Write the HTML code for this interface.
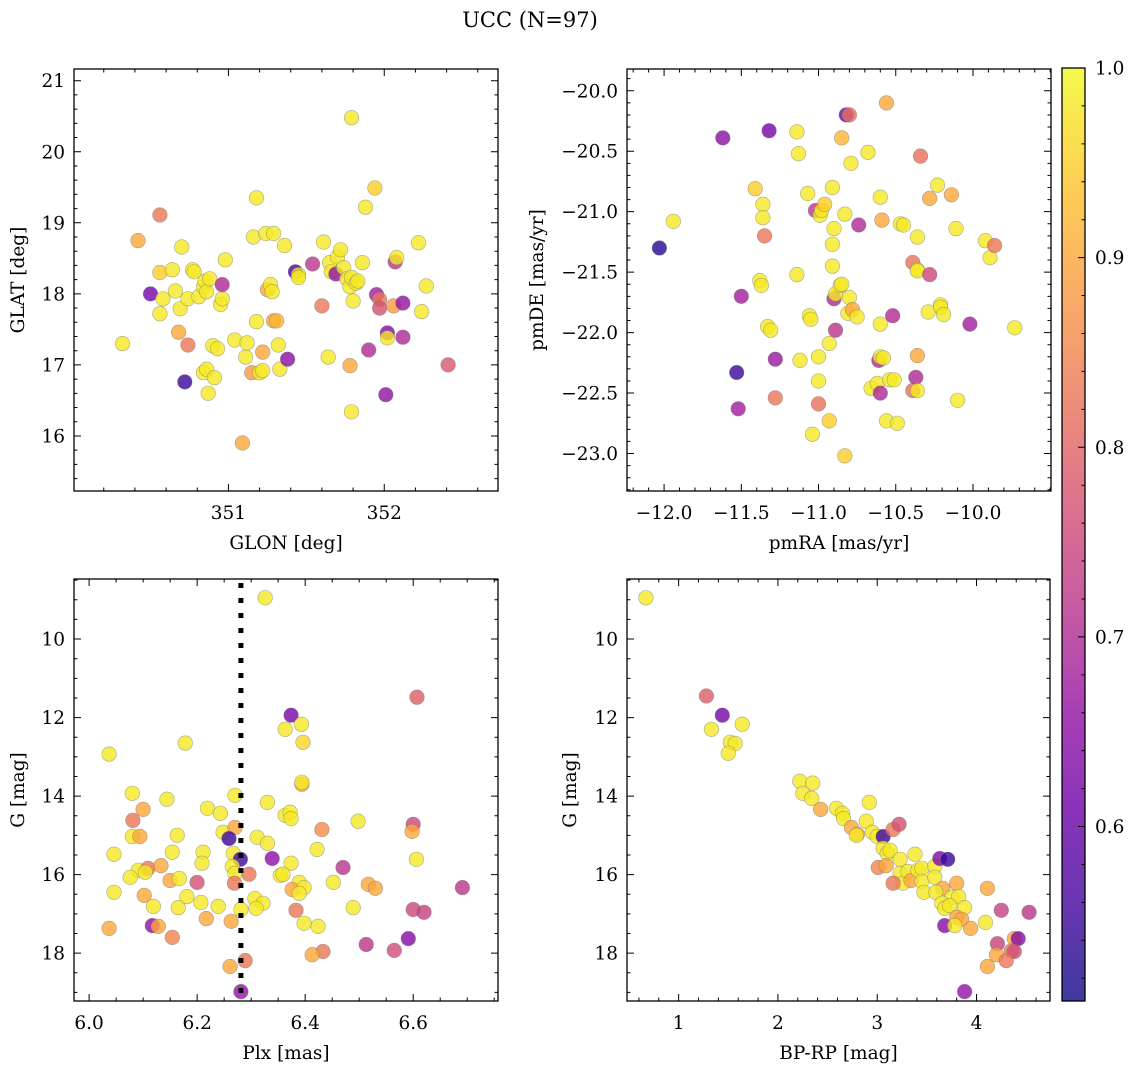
<!DOCTYPE html>
<html><head><meta charset="utf-8"><title>UCC (N=97)</title>
<style>
html,body{margin:0;padding:0;background:#fff;}
svg{display:block;font-family:"DejaVu Serif","Liberation Serif",serif;}
</style></head>
<body>
<svg id="fig" width="1136" height="1068" viewBox="0 0 1136 1068" xmlns="http://www.w3.org/2000/svg">
<text x="530" y="27" font-size="21" text-anchor="middle">UCC (N=97)</text>
</svg>
<script>
// ---------- data ----------
const p1Glon=[350.32,350.42,350.50,350.56,350.56,350.56,350.58,350.64,350.66,350.68,350.69,350.70,350.72,350.74,350.74,350.77,350.78,350.81,350.84,350.84,350.85,350.86,350.86,350.87,350.88,350.90,350.91,350.93,350.95,350.96,350.96,350.98,351.04,351.09,351.11,351.12,351.15,351.16,351.18,351.18,351.20,351.22,351.22,351.24,351.25,351.27,351.28,351.29,351.29,351.31,351.32,351.33,351.36,351.38,351.43,351.45,351.45,351.54,351.60,351.61,351.64,351.65,351.66,351.69,351.70,351.72,351.74,351.76,351.78,351.78,351.79,351.79,351.79,351.80,351.82,351.83,351.86,351.88,351.90,351.94,351.95,351.97,351.97,352.01,352.02,352.02,352.06,352.07,352.08,352.12,352.12,352.22,352.24,352.27,352.41];
const p1Glat=[17.30,18.75,18.00,19.11,18.30,17.72,17.93,18.34,18.04,17.46,17.79,18.66,16.76,17.28,17.93,18.34,18.31,17.96,18.10,16.89,18.18,18.03,16.94,16.60,18.21,17.27,16.82,17.23,17.85,17.93,18.13,18.48,17.35,15.90,17.11,17.31,16.89,18.80,19.35,17.61,16.89,17.18,16.92,18.85,18.06,18.13,18.03,17.62,18.85,17.62,17.28,16.94,18.68,17.08,18.31,18.27,18.23,18.42,17.83,18.73,17.11,18.44,18.31,18.28,18.52,18.62,18.37,18.21,18.10,16.99,18.23,20.48,16.34,17.90,18.15,18.18,18.44,19.22,17.21,19.49,17.99,17.92,17.80,16.58,17.45,17.38,17.83,18.45,18.51,17.87,17.39,18.72,17.75,18.11,17.00];
const p1Prob=[0.98,0.90,0.62,0.83,0.95,0.98,0.98,0.98,0.98,0.90,0.98,0.98,0.55,0.83,0.98,0.98,0.98,0.98,0.98,0.98,0.98,0.98,0.98,0.98,0.98,0.98,0.98,0.98,0.98,0.98,0.70,0.98,0.98,0.90,0.98,0.98,0.88,0.98,0.98,0.98,0.98,0.90,0.98,0.98,0.90,0.98,0.98,0.90,0.98,0.92,0.98,0.98,0.98,0.65,0.56,0.98,0.98,0.72,0.83,0.98,0.98,0.98,0.98,0.66,0.98,0.98,0.98,0.98,0.98,0.90,0.98,0.98,0.98,0.98,0.98,0.98,0.98,0.98,0.70,0.95,0.68,0.83,0.77,0.66,0.64,0.98,0.88,0.72,0.98,0.66,0.70,0.98,0.98,0.98,0.78];

const p2Pmra=[-12.03,-11.94,-11.62,-11.53,-11.52,-11.50,-11.41,-11.36,-11.36,-11.35,-11.38,-11.37,-11.33,-11.31,-11.32,-11.28,-11.28,-11.14,-11.13,-11.14,-11.12,-11.07,-11.06,-11.05,-11.04,-11.02,-11.00,-11.00,-11.00,-10.99,-10.98,-10.96,-10.93,-10.93,-10.91,-10.91,-10.91,-10.90,-10.90,-10.89,-10.89,-10.86,-10.85,-10.85,-10.83,-10.83,-10.82,-10.80,-10.81,-10.80,-10.79,-10.78,-10.75,-10.74,-10.68,-10.66,-10.62,-10.61,-10.60,-10.60,-10.60,-10.60,-10.59,-10.58,-10.56,-10.56,-10.54,-10.51,-10.52,-10.49,-10.47,-10.45,-10.39,-10.39,-10.37,-10.36,-10.36,-10.36,-10.36,-10.36,-10.34,-10.29,-10.28,-10.28,-10.23,-10.21,-10.21,-10.19,-10.14,-10.11,-10.10,-10.02,-9.92,-9.89,-9.86,-9.73];
const p2Pmde=[-21.30,-21.08,-20.39,-22.33,-22.63,-21.70,-20.81,-20.94,-21.05,-21.20,-21.57,-21.61,-21.95,-21.98,-20.33,-22.22,-22.54,-20.34,-20.52,-21.52,-22.23,-20.85,-21.86,-21.89,-22.84,-20.99,-22.40,-22.20,-22.59,-21.03,-20.99,-20.94,-22.73,-22.09,-20.80,-21.27,-21.45,-21.14,-21.72,-21.68,-21.98,-21.61,-21.60,-20.39,-21.02,-23.02,-20.20,-20.20,-21.84,-21.71,-20.60,-21.81,-21.87,-21.11,-20.51,-22.46,-22.42,-22.23,-22.50,-21.93,-20.88,-22.20,-21.07,-22.21,-20.10,-22.73,-22.39,-22.39,-21.86,-22.75,-21.10,-21.11,-21.42,-22.48,-22.37,-22.48,-22.19,-21.48,-21.21,-21.49,-20.54,-21.83,-21.52,-20.89,-20.78,-21.77,-21.79,-21.85,-20.86,-21.14,-22.56,-21.93,-21.24,-21.38,-21.28,-21.96];
const p2Prob=[0.53,0.98,0.65,0.55,0.68,0.68,0.95,0.98,0.98,0.83,0.98,0.98,0.98,0.98,0.62,0.67,0.83,0.98,0.98,0.98,0.98,0.98,0.98,0.98,0.98,0.72,0.98,0.98,0.82,0.98,0.98,0.95,0.95,0.98,0.98,0.98,0.98,0.98,0.70,0.98,0.72,0.98,0.98,0.92,0.98,0.95,0.60,0.82,0.98,0.98,0.98,0.90,0.98,0.70,0.98,0.98,0.98,0.70,0.70,0.98,0.98,0.98,0.90,0.98,0.90,0.98,0.98,0.98,0.70,0.98,0.98,0.98,0.82,0.82,0.70,0.98,0.90,0.98,0.98,0.98,0.82,0.98,0.75,0.90,0.98,0.98,0.98,0.98,0.90,0.98,0.98,0.68,0.98,0.98,0.83,0.98];

const p3Plx=[6.037,6.178,6.080,6.144,6.100,6.081,6.080,6.094,6.163,6.046,6.154,6.219,6.243,6.270,6.330,6.363,6.248,6.270,6.259,6.211,6.209,6.267,6.280,6.339,6.311,6.330,6.265,6.270,6.296,6.354,6.091,6.109,6.104,6.133,6.076,6.150,6.167,6.200,6.269,6.046,6.102,6.119,6.165,6.181,6.207,6.239,6.281,6.307,6.322,6.309,6.217,6.263,6.037,6.117,6.128,6.154,6.261,6.289,6.281,6.326,6.607,6.374,6.363,6.393,6.396,6.394,6.394,6.372,6.374,6.498,6.431,6.600,6.598,6.422,6.374,6.359,6.606,6.470,6.452,6.389,6.376,6.398,6.389,6.517,6.530,6.691,6.383,6.489,6.600,6.620,6.398,6.424,6.591,6.513,6.433,6.413,6.565];
const p3G=[12.93,12.65,13.93,14.08,14.34,14.62,15.03,15.03,15.00,15.48,15.43,14.31,14.44,13.98,14.16,14.49,14.92,14.80,15.08,15.43,15.71,15.46,15.61,15.59,15.05,15.20,15.79,15.97,15.99,16.02,15.89,15.84,15.94,15.77,16.07,16.15,16.10,16.20,16.22,16.45,16.53,16.81,16.84,16.56,16.71,16.81,16.89,16.61,16.73,16.86,17.12,17.19,17.37,17.30,17.32,17.60,18.34,18.19,18.98,8.95,11.48,11.94,12.30,12.17,12.63,13.70,13.65,14.41,14.57,14.64,14.85,14.72,14.90,15.36,15.71,15.99,15.61,15.82,16.20,16.20,16.38,16.33,16.48,16.25,16.35,16.33,16.91,16.84,16.89,16.96,17.24,17.32,17.63,17.78,17.96,18.04,17.93];
const p3Prob=[0.98,0.98,0.98,0.98,0.90,0.83,0.98,0.90,0.98,0.98,0.98,0.98,0.98,0.98,0.98,0.98,0.98,0.90,0.55,0.98,0.98,0.98,0.55,0.65,0.98,0.98,0.98,0.98,0.83,0.98,0.98,0.83,0.98,0.90,0.98,0.90,0.98,0.77,0.83,0.98,0.90,0.98,0.98,0.98,0.98,0.98,0.98,0.98,0.98,0.98,0.90,0.90,0.90,0.65,0.90,0.85,0.90,0.83,0.66,0.98,0.79,0.62,0.98,0.98,0.96,0.90,0.98,0.98,0.98,0.98,0.86,0.75,0.90,0.98,0.98,0.98,0.98,0.72,0.98,0.98,0.90,0.98,0.98,0.90,0.90,0.72,0.83,0.98,0.75,0.74,0.98,0.98,0.64,0.72,0.83,0.90,0.76];

const p4Bprp=[0.67,1.28,1.44,1.33,1.64,1.52,1.57,1.50,2.22,2.35,2.25,2.34,2.43,2.59,2.65,2.66,2.92,2.74,2.80,2.79,2.89,2.95,3.00,3.06,3.16,3.22,3.06,3.10,3.13,3.01,3.09,3.23,3.38,3.23,3.26,3.16,3.31,3.34,3.41,3.45,3.45,3.58,3.63,3.71,3.58,3.66,3.47,3.59,3.80,3.75,3.82,3.65,3.68,3.73,3.88,3.80,3.85,3.68,3.78,3.94,4.09,4.11,4.25,4.53,4.38,4.42,4.21,4.20,4.35,4.38,4.30,4.11,3.88];
const p4G=[8.95,11.45,11.94,12.30,12.17,12.63,12.66,12.91,13.62,13.67,13.93,14.06,14.34,14.31,14.44,14.57,14.16,14.80,14.97,15.00,14.64,14.92,15.03,15.03,14.85,14.72,15.33,15.46,15.38,15.82,15.77,15.61,15.48,15.97,16.22,16.22,15.92,16.15,15.89,15.84,16.17,15.79,15.59,15.61,16.07,16.35,16.45,16.45,16.22,16.58,16.56,16.73,16.86,16.79,16.84,17.09,17.14,17.30,17.30,17.37,17.22,16.35,16.91,16.96,17.63,17.63,17.76,18.04,17.94,17.96,18.19,18.34,18.98];
const p4Prob=[0.98,0.79,0.62,0.98,0.98,0.98,0.98,0.98,0.98,0.98,0.98,0.98,0.90,0.98,0.98,0.98,0.98,0.90,0.90,0.98,0.98,0.98,0.98,0.55,0.83,0.77,0.98,0.98,0.98,0.85,0.90,0.98,0.98,0.98,0.98,0.83,0.98,0.90,0.98,0.98,0.98,0.98,0.63,0.55,0.98,0.90,0.98,0.98,0.90,0.98,0.98,0.98,0.98,0.98,0.98,0.90,0.90,0.64,0.98,0.90,0.98,0.90,0.74,0.72,0.90,0.64,0.74,0.90,0.83,0.76,0.83,0.90,0.66];

const p1XTicks=[351,352], p1XLabels=["351","352"];
const p1YTicks=[16,17,18,19,20,21], p1YLabels=["16","17","18","19","20","21"];
const p2XTicks=[-12,-11.5,-11,-10.5,-10], p2XLabels=["−12.0","−11.5","−11.0","−10.5","−10.0"];
const p2YTicks=[-23,-22.5,-22,-21.5,-21,-20.5,-20], p2YLabels=["−23.0","−22.5","−22.0","−21.5","−21.0","−20.5","−20.0"];
const p3XTicks=[6.0,6.2,6.4,6.6], p3XLabels=["6.0","6.2","6.4","6.6"];
const gTicks=[10,12,14,16,18], gLabels=["10","12","14","16","18"];
const p4XTicks=[1,2,3,4], p4XLabels=["1","2","3","4"];
const cbTicks=[0.6,0.7,0.8,0.9,1.0], cbLabels=["0.6","0.7","0.8","0.9","1.0"];
const plxLine=[6.281];

// ---------- rendering ----------
const NS="http://www.w3.org/2000/svg";
const svg=document.getElementById('fig');
const VMIN=0.508, VMAX=1.0;
const FS=18.5;
const stops=[[13,8,135],[65,4,157],[106,0,168],[143,13,164],[177,42,144],[204,71,120],[225,100,98],[242,132,75],[252,166,54],[252,206,37],[240,249,33]];
function plasma(v){
  let t=(v-VMIN)/(VMAX-VMIN); t=Math.max(0,Math.min(1,t));
  const f=t*10, i=Math.min(9,Math.floor(f)), r=f-i;
  const a=stops[i], b=stops[i+1];
  return 'rgb('+[0,1,2].map(k=>Math.round(a[k]+(b[k]-a[k])*r)).join(',')+')';
}
function mk(tag,attrs,parent){const e=document.createElementNS(NS,tag);for(const k in attrs)e.setAttribute(k,attrs[k]);(parent||svg).appendChild(e);return e;}

function panel(cfg){
  const g=mk('g',{});
  
  
  const {x0,y0,x1,y1,xmin,xmax,ymin,ymax,invert}=cfg;
  const sx=v=>x0+(v-xmin)/(xmax-xmin)*(x1-x0);
  const sy=v=>invert? y0+(v-ymin)/(ymax-ymin)*(y1-y0) : y1-(v-ymin)/(ymax-ymin)*(y1-y0);
  const pts=mk('g',{},g);
  
  
  for(let i=0;i<cfg.xs.length;i++){
    const c=mk('circle',{cx:sx(cfg.xs[i]).toFixed(1),cy:sy(cfg.ys[i]).toFixed(1),r:7.3,fill:plasma(cfg.ps[i]),'fill-opacity':0.8,stroke:'#777','stroke-opacity':0.6,'stroke-width':0.6},pts);
    
    
  }
  if(cfg.vline){
    const l=mk('line',{x1:sx(cfg.vline),x2:sx(cfg.vline),y1:y0+4,y2:y1,stroke:'#000','stroke-width':5,'stroke-dasharray':'5 10'},g);
    
    
  }
  const fr=mk('rect',{x:x0,y:y0,width:x1-x0,height:y1-y0,fill:'none',stroke:'#000','stroke-width':1.3},g);
  
  
  let tk='';
  for(let v=Math.ceil(xmin/cfg.xminor-1e-9)*cfg.xminor; v<=xmax; v+=cfg.xminor){const X=sx(v);tk+=`M${X} ${y1}v-3.5M${X} ${y0}v3.5`;}
  for(let v=Math.ceil(ymin/cfg.yminor-1e-9)*cfg.yminor; v<=ymax; v+=cfg.yminor){const Y=sy(v);tk+=`M${x0} ${Y}h3.5M${x1} ${Y}h-3.5`;}
  cfg.xt.forEach(v=>{const X=sx(v);tk+=`M${X} ${y1}v-7M${X} ${y0}v7`;});
  cfg.yt.forEach(v=>{const Y=sy(v);tk+=`M${x0} ${Y}h7M${x1} ${Y}h-7`;});
  mk('path',{d:tk,stroke:'#000','stroke-width':1,fill:'none'},g);
  cfg.xt.forEach((v,i)=>{const t=mk('text',{x:sx(v),y:y1+28,'font-size':FS,'text-anchor':'middle'},g);t.textContent=cfg.xl[i];
    
    });
  cfg.yt.forEach((v,i)=>{const t=mk('text',{x:x0-9,y:sy(v)+6.5,'font-size':FS,'text-anchor':'end'},g);t.textContent=cfg.yl[i];
    
    });
  const xt=mk('text',{x:(x0+x1)/2,y:y1+58,'font-size':FS,'text-anchor':'middle'},g);xt.textContent=cfg.xtitle;
  
  
  const yx=cfg.ytx, yy=(y0+y1)/2;
  const yt=mk('text',{x:yx,y:yy,'font-size':FS,'text-anchor':'middle',transform:`rotate(-90 ${yx} ${yy})`},g);yt.textContent=cfg.ytitle;
  
  
}

panel({name:'glon-glat-panel',x0:74,y0:69,x1:498,y1:491,xmin:350.009,xmax:352.73,ymin:15.225,ymax:21.165,xminor:0.2,yminor:0.2,xt:p1XTicks,xl:p1XLabels,yt:p1YTicks,yl:p1YLabels,xs:p1Glon,ys:p1Glat,ps:p1Prob,xtitle:'GLON [deg]',ytitle:'GLAT [deg]',ytx:24});
panel({name:'pm-panel',x0:627,y0:69,x1:1051,y1:491,xmin:-12.24,xmax:-9.495,ymin:-23.31,ymax:-19.82,xminor:0.1,yminor:0.1,xt:p2XTicks,xl:p2XLabels,yt:p2YTicks,yl:p2YLabels,xs:p2Pmra,ys:p2Pmde,ps:p2Prob,xtitle:'pmRA [mas/yr]',ytitle:'pmDE [mas/yr]',ytx:543});
panel({name:'plx-g-panel',x0:74,y0:579,x1:498,y1:1001,xmin:5.972,xmax:6.757,ymin:8.47,ymax:19.22,invert:true,xminor:0.05,yminor:0.5,xt:p3XTicks,xl:p3XLabels,yt:gTicks,yl:gLabels,xs:p3Plx,ys:p3G,ps:p3Prob,xtitle:'Plx [mas]',ytitle:'G [mag]',ytx:24,vline:plxLine[0]});
panel({name:'cmd-panel',x0:627,y0:579,x1:1050,y1:1001,xmin:0.48,xmax:4.74,ymin:8.47,ymax:19.22,invert:true,xminor:0.2,yminor:0.5,xt:p4XTicks,xl:p4XLabels,yt:gTicks,yl:gLabels,xs:p4Bprp,ys:p4G,ps:p4Prob,xtitle:'BP-RP [mag]',ytitle:'G [mag]',ytx:576});

(function(){
  const cx0=1062,cx1=1085,cy0=68,cy1=1001;
  const g=mk('g',{});
  
  
  const defs=mk('defs',{},g);
  const lg=mk('linearGradient',{id:'cbg',x1:0,y1:1,x2:0,y2:0},defs);
  for(let i=0;i<=20;i++){const v=VMIN+(VMAX-VMIN)*i/20;mk('stop',{offset:(i/20),'stop-color':plasma(v),'stop-opacity':0.8},lg);}
  mk('rect',{x:cx0,y:cy0,width:cx1-cx0,height:cy1-cy0,fill:'url(#cbg)',stroke:'#000','stroke-width':1.3},g);
  const sy=v=>cy1-(v-VMIN)/(VMAX-VMIN)*(cy1-cy0);
  let d='';
  for(let k=26;k<=50;k++){const v=k/50;if(v<VMIN)continue;d+=`M${cx1} ${sy(v)}h-3.5`;}
  cbTicks.forEach(v=>{d+=`M${cx1} ${sy(v)}h-7`;});
  mk('path',{d,stroke:'#000','stroke-width':1,fill:'none'},g);
  cbTicks.forEach((v,i)=>{const t=mk('text',{x:cx1+10,y:sy(v)+6.5,'font-size':FS},g);t.textContent=cbLabels[i];
    
    });
})();
</script>
</body></html>
